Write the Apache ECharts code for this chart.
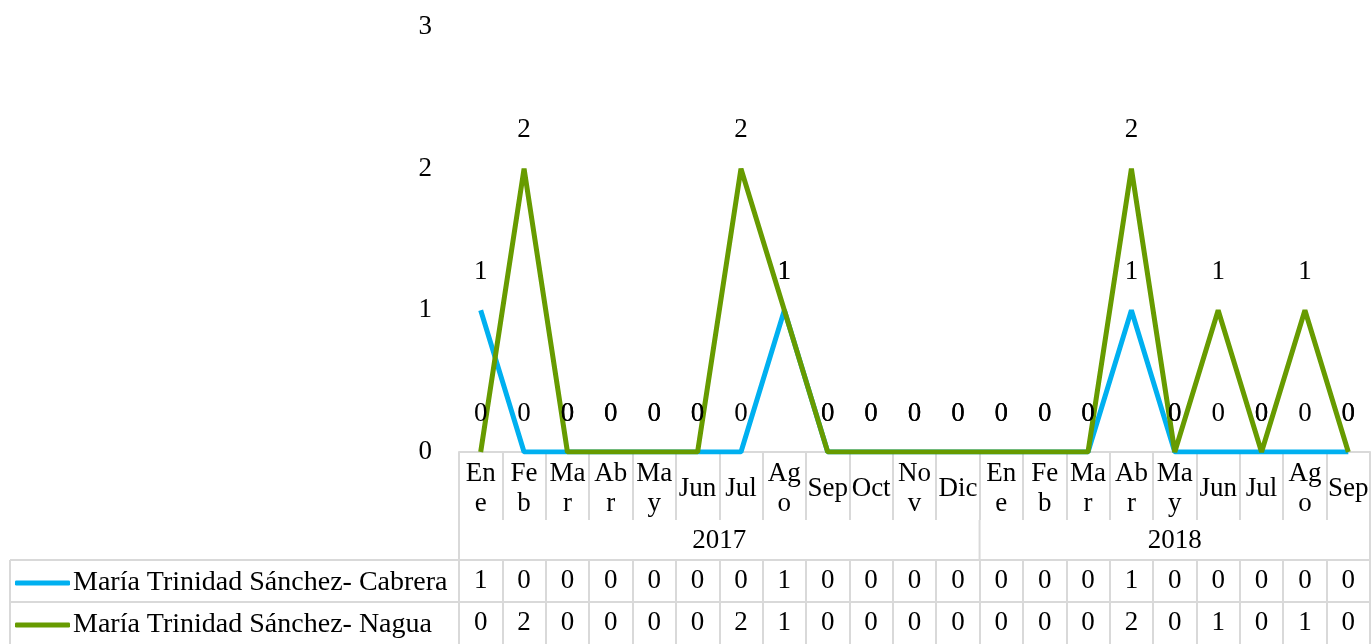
<!DOCTYPE html>
<html>
<head>
<meta charset="utf-8">
<script src="https://cdn.jsdelivr.net/npm/echarts@6/dist/echarts.min.js"></script>
<style>
  html, body { margin: 0; padding: 0; background: #fff; }
  #chart { width: 1372px; height: 644px; }
</style>
</head>
<body>
<div id="chart"></div>
<script>
  // meses (etiquetas partidas como en la tabla original)
  var months = ['En\ne', 'Fe\nb', 'Ma\nr', 'Ab\nr', 'Ma\ny', 'Jun', 'Jul', 'Ag\no', 'Sep', 'Oct', 'No\nv', 'Dic',
                'En\ne', 'Fe\nb', 'Ma\nr', 'Ab\nr', 'Ma\ny', 'Jun', 'Jul', 'Ag\no', 'Sep'];
  var years = ['2017', '2018'];
  var yearSpans = [12, 9];

  var cabreraName = 'María Trinidad Sánchez- Cabrera';
  var naguaName = 'María Trinidad Sánchez- Nagua';
  var cabrera = [1, 0, 0, 0, 0, 0, 0, 1, 0, 0, 0, 0, 0, 0, 0, 1, 0, 0, 0, 0, 0];
  var nagua   = [0, 2, 0, 0, 0, 0, 2, 1, 0, 0, 0, 0, 0, 0, 0, 2, 0, 1, 0, 1, 0];
  var yTicks = [0, 1, 2, 3];

  var FONT = 'Liberation Serif';
  var FS = 27;
  var GRID_COLOR = '#d9d9d9';
  var blue = '#00b0f0';
  var green = '#679b00';

  var myChart = echarts.init(document.getElementById('chart'));

  function tableAxis(values, offset) {
    return {
      type: 'category',
      position: 'bottom',
      offset: offset,
      data: values.map(String),
      axisLine: { show: true, lineStyle: { color: GRID_COLOR, width: 2 } },
      axisTick: { show: true, length: 42, lineStyle: { color: GRID_COLOR, width: 2 } },
      axisLabel: { margin: 21, verticalAlign: 'middle', color: '#000', fontFamily: FONT, fontSize: FS }
    };
  }

  function lineSeries(name, values, color) {
    return {
      name: name,
      type: 'line',
      data: values,
      symbol: 'circle',
      symbolSize: 0,
      showSymbol: true,
      lineStyle: { color: color, width: 5 },
      itemStyle: { color: color },
      label: {
        show: true,
        position: 'top',
        distance: 25,
        color: '#000',
        fontFamily: FONT,
        fontSize: FS
      },
      emphasis: { disabled: true }
    };
  }

  var option = {
    animation: false,
    grid: { left: 459, right: 2, top: 27, bottom: 192 },
    legend: {
      orient: 'vertical',
      left: 15,
      top: 569,
      padding: 0,
      itemGap: 14,
      itemWidth: 55,
      itemHeight: 5,
      icon: 'roundRect',
      data: [cabreraName, naguaName],
      textStyle: { color: '#000', fontFamily: FONT, fontSize: 28, lineHeight: 28, padding: [0, 0, 0, -2] }
    },
    xAxis: [
      {
        type: 'category',
        data: months,
        boundaryGap: true,
        axisLine: { show: true, lineStyle: { color: GRID_COLOR, width: 2 } },
        axisTick: { show: true, length: 68, lineStyle: { color: GRID_COLOR, width: 2 } },
        axisLabel: {
          interval: 0,
          margin: 37,
          verticalAlign: 'middle',
          lineHeight: 30,
          color: '#000',
          fontFamily: FONT,
          fontSize: FS
        }
      },
      tableAxis(cabrera, 108),
      tableAxis(nagua, 150)
    ],
    yAxis: {
      type: 'value',
      min: 0,
      max: 3,
      interval: 1,
      axisLine: { show: false },
      axisTick: { show: false },
      splitLine: { show: false },
      axisLabel: {
        margin: 27,
        color: '#000',
        fontFamily: FONT,
        fontSize: FS,
        formatter: function (v) { return yTicks.indexOf(v) >= 0 ? String(v) : ''; }
      }
    },
    series: [
      lineSeries(cabreraName, cabrera, blue),
      lineSeries(naguaName, nagua, green)
    ]
  };

  myChart.setOption(option);

  // fila de años y bordes de la tabla, calculados desde el eje
  var c0 = myChart.convertToPixel({ xAxisIndex: 0 }, 0);
  var c1 = myChart.convertToPixel({ xAxisIndex: 0 }, 1);
  var step = c1 - c0;
  var x0 = c0 - step / 2;
  var xEnd = x0 + step * months.length;
  var yAxis0 = myChart.convertToPixel({ yAxisIndex: 0 }, 0);
  var monthBottom = yAxis0 + 68;
  var yearBottom = yAxis0 + 108;
  var row1Bottom = yAxis0 + 150;
  var row2Bottom = yAxis0 + 192;
  var lineStyle = { stroke: GRID_COLOR, lineWidth: 2 };

  var graphics = [];
  var start = 0;
  years.forEach(function (yr, i) {
    var left = x0 + start * step;
    var right = left + yearSpans[i] * step;
    graphics.push({
      type: 'text',
      style: {
        text: yr, x: (left + right) / 2, y: (monthBottom + yearBottom) / 2 + 1,
        align: 'center', verticalAlign: 'middle',
        fill: '#000', font: FS + 'px "' + FONT + '"'
      }
    });
    graphics.push({ type: 'line', shape: { x1: right, y1: monthBottom, x2: right, y2: yearBottom }, style: lineStyle });
    start += yearSpans[i];
  });
  graphics.push({ type: 'line', shape: { x1: x0, y1: yAxis0, x2: x0, y2: row2Bottom }, style: lineStyle });
  graphics.push({ type: 'line', shape: { x1: 10, y1: yearBottom, x2: x0, y2: yearBottom }, style: lineStyle });
  graphics.push({ type: 'line', shape: { x1: 10, y1: row1Bottom, x2: x0, y2: row1Bottom }, style: lineStyle });
  graphics.push({ type: 'line', shape: { x1: 10, y1: yearBottom, x2: 10, y2: row2Bottom }, style: lineStyle });
  graphics.push({ type: 'line', shape: { x1: xEnd, y1: monthBottom, x2: xEnd, y2: yearBottom }, style: lineStyle });

  myChart.setOption({ graphic: graphics });
</script>
</body>
</html>
